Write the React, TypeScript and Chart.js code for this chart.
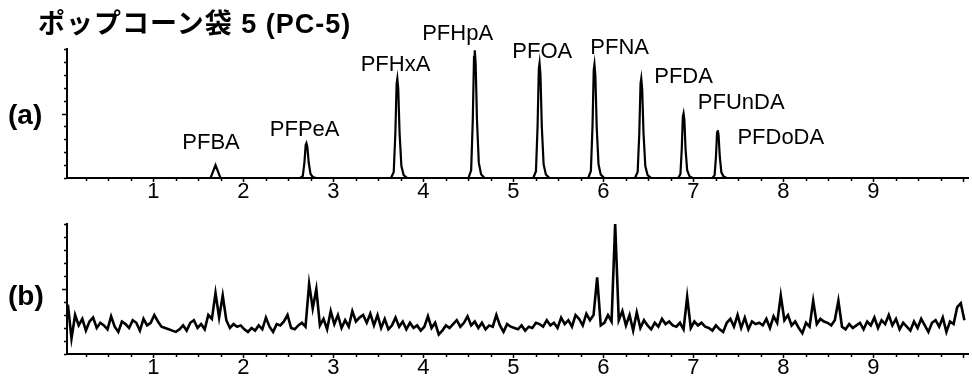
import React, { useEffect, useRef } from "react";
import { Chart, registerables } from "chart.js";

Chart.register(...registerables);

const FONT = '"Liberation Sans", Arial, "Noto Sans CJK JP", sans-serif';

const titleText = "ポップコーン袋 5 (PC-5)";
const panelLabels = ["(a)", "(b)"];
const xTickLabels = [1, 2, 3, 4, 5, 6, 7, 8, 9];
const X_MIN = 0.04;
const X_MAX = 10.05;

// Panel (a): chromatogram points (time, relative intensity)
const aTimes = [
  0.04,
  1.635, 1.69, 1.745,
  2.63, 2.66, 2.678, 2.692, 2.7, 2.71, 2.725, 2.745, 2.77, 2.81,
  3.64, 3.67, 3.688, 3.702, 3.71, 3.72, 3.735, 3.755, 3.78, 3.82,
  4.5, 4.53, 4.548, 4.562, 4.57, 4.58, 4.595, 4.615, 4.64, 4.68,
  5.22, 5.25, 5.268, 5.282, 5.29, 5.3, 5.315, 5.335, 5.36, 5.4,
  5.83, 5.86, 5.878, 5.892, 5.9, 5.91, 5.925, 5.945, 5.97, 6.01,
  6.35, 6.38, 6.398, 6.412, 6.42, 6.43, 6.445, 6.465, 6.49, 6.53,
  6.83, 6.855, 6.87, 6.882, 6.89, 6.899, 6.912, 6.93, 6.955, 6.99,
  7.21, 7.235, 7.25, 7.262, 7.27, 7.279, 7.292, 7.31, 7.335, 7.37,
  10.05,
];
const aValues = [
  0,
  0, 10, 0,
  0, 1.6, 12.2, 25.7, 27, 24.3, 12.2, 3.2, 0.8, 0,
  0, 4.6, 34.7, 73.2, 77, 69.3, 34.7, 9.2, 2.3, 0,
  0, 5.9, 44.6, 94, 99, 89, 44.6, 11.9, 3, 0,
  0, 5.3, 40, 84.6, 89, 80.1, 40, 10.7, 2.7, 0,
  0, 5.3, 39.6, 83.6, 88, 79.2, 39.6, 10.6, 2.6, 0,
  0, 4.6, 34.7, 73.2, 77, 69.3, 34.7, 9.2, 2.3, 0,
  0, 3, 22.5, 47.5, 50, 45, 22.5, 6, 1.5, 0,
  0, 2.2, 16.7, 35.2, 37, 33.3, 16.7, 4.4, 1.1, 0,
  0,
];

// Peak labels and their anchor (time, value) in panel (a)
const peakNames = ["PFBA", "PFPeA", "PFHxA", "PFHpA", "PFOA", "PFNA", "PFDA", "PFUnDA", "PFDoDA"];
const peakLabelT = [1.64, 2.68, 3.69, 4.38, 5.32, 6.18, 6.89, 7.53, 7.97];
const peakLabelV = [27, 37, 88, 112, 98, 101, 78, 58, 31];

// Panel (b): noise trace, sampled from B_START every B_STEP
const B_START = 0.05;
const B_STEP = 0.04;
const bValues = [
  38, 12, 30, 22, 27, 18, 25, 28, 20, 24, 22, 19, 29, 21, 17, 25, 23, 20, 26, 24, 18, 27, 22, 24, 30,
  25, 21, 20, 19, 18, 17, 19, 22, 18, 24, 26, 20, 23, 19, 30, 27, 47, 28, 45, 26, 20, 23, 21, 22, 19,
  17, 20, 18, 22, 19, 28, 21, 17, 23, 22, 25, 30, 20, 19, 22, 24, 21, 54, 35, 50, 22, 27, 19, 33, 23,
  30, 20, 26, 21, 33, 25, 28, 30, 24, 31, 22, 30, 20, 27, 19, 22, 28, 21, 25, 19, 24, 20, 22, 18, 21,
  29, 20, 24, 15, 18, 22, 20, 23, 26, 21, 24, 29, 22, 25, 20, 24, 19, 22, 21, 30, 22, 17, 23, 21, 20,
  19, 22, 18, 21, 20, 24, 23, 21, 26, 22, 24, 20, 28, 23, 26, 21, 30, 27, 22, 31, 26, 30, 59, 22, 24,
  30, 25, 100, 26, 33, 22, 30, 18, 32, 20, 26, 22, 19, 24, 21, 27, 23, 25, 22, 21, 24, 19, 44, 20, 25,
  22, 24, 21, 20, 18, 22, 19, 17, 24, 27, 21, 30, 20, 28, 19, 25, 23, 24, 22, 27, 20, 29, 24, 45, 26,
  30, 22, 25, 20, 16, 24, 21, 41, 23, 27, 25, 24, 22, 26, 41, 21, 19, 23, 20, 22, 24, 19, 25, 22, 28,
  20, 26, 23, 30, 22, 27, 19, 24, 21, 18, 25, 20, 27, 22, 17, 24, 26, 21, 28, 17, 25, 23, 36, 39, 26,
];
const bTimes = bValues.map((_, i) => +(B_START + i * B_STEP).toFixed(3));

const axisTicksPlugin = {
  id: "axisTicks",
  afterDraw(chart: any) {
    const { ctx, chartArea, scales } = chart;
    const x = scales.x;
    const y = scales.y;
    ctx.save();
    ctx.strokeStyle = "#000";
    ctx.lineWidth = 1.5;
    ctx.beginPath();
    for (let k = Math.ceil(x.min * 4); k <= Math.floor(x.max * 4); k++) {
      const px = Math.round(x.getPixelForValue(k / 4)) + 0.5;
      const len = k % 4 === 0 ? 4 : 3;
      ctx.moveTo(px, chartArea.bottom);
      ctx.lineTo(px, chartArea.bottom + len);
    }
    for (let k = 0; k <= 10; k++) {
      const py = Math.round(y.getPixelForValue(k * 10)) + 0.5;
      const len = k === 5 ? 5 : 3;
      ctx.moveTo(chartArea.left - len, py);
      ctx.lineTo(chartArea.left, py);
    }
    ctx.stroke();
    ctx.restore();
  },
};

const peakLabelsPlugin = {
  id: "peakLabels",
  afterDraw(chart: any) {
    if (!chart.options.plugins.peakLabels || !chart.options.plugins.peakLabels.show) return;
    const { ctx, scales } = chart;
    ctx.save();
    ctx.fillStyle = "#000";
    ctx.font = `22px ${FONT}`;
    ctx.textAlign = "center";
    ctx.textBaseline = "middle";
    peakNames.forEach((name, i) => {
      ctx.fillText(name, scales.x.getPixelForValue(peakLabelT[i]), scales.y.getPixelForValue(peakLabelV[i]));
    });
    ctx.restore();
  },
};

function makeOptions(padTop: number, padBottom: number, showLabels: boolean) {
  return {
    animation: false,
    responsive: true,
    maintainAspectRatio: false,
    layout: { padding: { top: padTop, right: 4, bottom: padBottom, left: 0 } },
    plugins: {
      legend: { display: false },
      tooltip: { enabled: false },
      peakLabels: { show: showLabels },
    },
    scales: {
      x: {
        type: "linear",
        min: X_MIN,
        max: X_MAX,
        afterFit: (s: any) => {
          s.height = 27;
        },
        grid: { display: false, drawTicks: false },
        border: { display: true, color: "#000", width: 2 },
        ticks: {
          stepSize: 1,
          includeBounds: false,
          autoSkip: false,
          maxRotation: 0,
          padding: 1,
          color: "#000",
          font: { family: FONT, size: 22 },
          callback: (v: any) => (xTickLabels.includes(v) ? String(v) : ""),
        },
      },
      y: {
        min: 0,
        max: 100,
        afterFit: (s: any) => {
          s.width = 67;
        },
        grid: { display: false, drawTicks: false },
        border: { display: true, color: "#000", width: 2 },
        ticks: { display: false },
      },
    },
  };
}

export default function App() {
  const refA = useRef<HTMLCanvasElement>(null);
  const refB = useRef<HTMLCanvasElement>(null);

  useEffect(() => {
    const ptsA = aTimes.map((t, i) => ({ x: t, y: aValues[i] }));
    const ptsB = bTimes.map((t, i) => ({ x: t, y: bValues[i] }));
    const chartA = new Chart(refA.current as HTMLCanvasElement, {
      type: "line",
      data: {
        datasets: [
          {
            data: ptsA,
            borderColor: "#000",
            borderWidth: 2.2,
            pointRadius: 0,
            tension: 0,
            fill: false,
          },
        ],
      },
      options: makeOptions(49, 0, true) as any,
      plugins: [axisTicksPlugin, peakLabelsPlugin],
    });
    const chartB = new Chart(refB.current as HTMLCanvasElement, {
      type: "line",
      data: {
        datasets: [
          {
            data: ptsB,
            borderColor: "#000",
            borderWidth: 2.6,
            pointRadius: 0,
            tension: 0,
            fill: false,
          },
        ],
      },
      options: makeOptions(24, 6, false) as any,
      plugins: [axisTicksPlugin],
    });
    return () => {
      chartA.destroy();
      chartB.destroy();
    };
  }, []);

  const textStyle: React.CSSProperties = {
    position: "absolute",
    fontFamily: FONT,
    fontWeight: "bold",
    color: "#000",
    whiteSpace: "nowrap",
  };

  return (
    <div style={{ position: "fixed", left: 0, top: 0, width: 972, height: 387, background: "#fff" }}>
      <div style={{ position: "absolute", left: 0, top: 0, width: 972, height: 205 }}>
        <canvas ref={refA} />
      </div>
      <div style={{ position: "absolute", left: 0, top: 200, width: 972, height: 187 }}>
        <canvas ref={refB} />
      </div>
      <div style={{ ...textStyle, left: 38, top: 11, fontSize: 27, lineHeight: "27px", letterSpacing: 1 }}>
        {titleText}
      </div>
      <div style={{ ...textStyle, left: 8, top: 101, fontSize: 28, lineHeight: "28px" }}>{panelLabels[0]}</div>
      <div style={{ ...textStyle, left: 8, top: 282, fontSize: 28, lineHeight: "28px" }}>{panelLabels[1]}</div>
    </div>
  );
}
